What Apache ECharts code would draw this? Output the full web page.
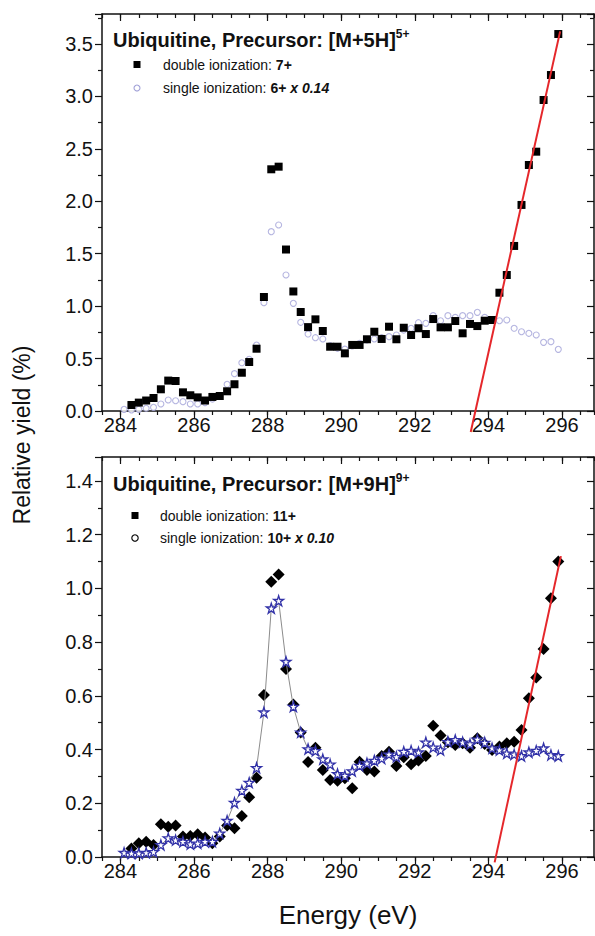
<!DOCTYPE html>
<html>
<head>
<meta charset="utf-8">
<script src="https://cdn.jsdelivr.net/npm/echarts@6/dist/echarts.min.js"></script>
<style>
   html, body { margin: 0; padding: 0; background: #fff; }
   #chart { width: 595px; height: 936px; }
</style>
</head>
<body>
<div id="chart"></div>
<script>
// energies (eV) of the measured points
const ENERGY_SINGLE = [284.1, 284.3, 284.5, 284.7, 284.9, 285.1, 285.3, 285.5, 285.7, 285.9,
   286.1, 286.3, 286.5, 286.7, 286.9, 287.1, 287.3, 287.5, 287.7, 287.9,
   288.1, 288.3, 288.5, 288.7, 288.9, 289.1, 289.3, 289.5, 289.7, 289.9,
   290.1, 290.3, 290.5, 290.7, 290.9, 291.1, 291.3, 291.5, 291.7, 291.9,
   292.1, 292.3, 292.5, 292.7, 292.9, 293.1, 293.3, 293.5, 293.7, 293.9,
   294.1, 294.3, 294.5, 294.7, 294.9, 295.1, 295.3, 295.5, 295.7, 295.9];
const ENERGY_DOUBLE = [284.3, 284.5, 284.7, 284.9, 285.1, 285.3, 285.5, 285.7, 285.9,
   286.1, 286.3, 286.5, 286.7, 286.9, 287.1, 287.3, 287.5, 287.7, 287.9,
   288.1, 288.3, 288.5, 288.7, 288.9, 289.1, 289.3, 289.5, 289.7, 289.9,
   290.1, 290.3, 290.5, 290.7, 290.9, 291.1, 291.3, 291.5, 291.7, 291.9,
   292.1, 292.3, 292.5, 292.7, 292.9, 293.1, 293.3, 293.5, 293.7, 293.9,
   294.1, 294.3, 294.5, 294.7, 294.9, 295.1, 295.3, 295.5, 295.7, 295.9];

// [M+5H]5+ : double ionization 7+, single ionization 6+ x 0.14
const TOP_DOUBLE = [0.057, 0.08, 0.10, 0.124, 0.207, 0.29, 0.286, 0.178, 0.15,
   0.13, 0.10, 0.134, 0.143, 0.188, 0.255, 0.365, 0.467, 0.594, 1.087,
   2.305, 2.33, 1.54, 1.14, 0.944, 0.80, 0.874, 0.763, 0.613, 0.613,
   0.55, 0.63, 0.63, 0.684, 0.756, 0.687, 0.804, 0.684, 0.794, 0.725,
   0.789, 0.734, 0.877, 0.798, 0.798, 0.858, 0.741, 0.83, 0.81, 0.861,
   0.868, 1.128, 1.297, 1.574, 1.965, 2.346, 2.473, 2.966, 3.204, 3.595];
const TOP_SINGLE = [0.016, 0.01, 0.016, 0.026, 0.035, 0.067, 0.105, 0.098, 0.089, 0.067,
   0.067, 0.08, 0.114, 0.143, 0.255, 0.356, 0.46, 0.493, 0.629, 1.033,
   1.71, 1.774, 1.297, 1.027, 0.846, 0.734, 0.699, 0.687, 0.623, 0.598,
   0.59, 0.62, 0.645, 0.677, 0.687, 0.699, 0.709, 0.725, 0.772, 0.789,
   0.842, 0.836, 0.909, 0.861, 0.909, 0.893, 0.909, 0.909, 0.941, 0.893,
   0.868, 0.861, 0.868, 0.789, 0.756, 0.741, 0.725, 0.655, 0.661, 0.588];
const TOP_FIT = [[293.52, -0.2], [295.95, 3.62]];

// [M+9H]9+ : double ionization 11+, single ionization 10+ x 0.10
const BOTTOM_DOUBLE = [0.032, 0.051, 0.057, 0.045, 0.122, 0.113, 0.117, 0.076, 0.078,
   0.085, 0.073, 0.051, 0.076, 0.117, 0.107, 0.153, 0.222, 0.295, 0.603,
   1.025, 1.052, 0.70, 0.568, 0.463, 0.354, 0.407, 0.324, 0.287, 0.284,
   0.293, 0.256, 0.355, 0.324, 0.318, 0.376, 0.392, 0.339, 0.371, 0.345,
   0.359, 0.376, 0.489, 0.452, 0.427, 0.417, 0.423, 0.407, 0.442, 0.421,
   0.398, 0.411, 0.423, 0.429, 0.473, 0.591, 0.668, 0.774, 0.963, 1.10];
const BOTTOM_SINGLE = [0.016, 0.014, 0.014, 0.016, 0.019, 0.045, 0.07, 0.063, 0.057, 0.048,
   0.051, 0.057, 0.057, 0.088, 0.135, 0.202, 0.247, 0.277, 0.332, 0.539,
   0.926, 0.954, 0.727, 0.56, 0.464, 0.402, 0.395, 0.364, 0.345, 0.309,
   0.303, 0.32, 0.34, 0.349, 0.359, 0.367, 0.382, 0.373, 0.392, 0.396,
   0.39, 0.427, 0.408, 0.398, 0.429, 0.436, 0.427, 0.42, 0.438, 0.426,
   0.405, 0.398, 0.386, 0.382, 0.376, 0.39, 0.396, 0.405, 0.38, 0.376];
const BOTTOM_FIT = [[294.17, -0.02], [295.97, 1.12]];

// axis ticks
const X_TICKS = [284, 286, 288, 290, 292, 294, 296];
const X_MIN = 283.5, X_MAX = 296.87;

const FONT = "'Liberation Sans', Arial, sans-serif";
const INK = '#111';
const STAR = 'path://M50,2 L61,36 L97,36 L68,57 L79,92 L50,71 L21,92 L32,57 L3,36 L39,36 Z';

function pair(xs, ys) {
   return ys.map((y, i) => [xs[i], y]);
}

function xAxesFor(g) {
   const line = { color: INK, width: 1.5 };
   const tick = { color: INK, width: 1.2 };
   const base = { gridIndex: g, type: 'value', min: X_MIN, max: X_MAX, splitLine: { show: false } };
   return [
      Object.assign({}, base, {
         position: 'bottom', interval: 0.5,
         axisLine: { show: true, lineStyle: line },
         axisTick: { show: true, length: 4, lineStyle: tick },
         axisLabel: { customValues: X_TICKS, fontSize: 20, color: INK, fontFamily: FONT, margin: 4 }
      }),
      Object.assign({}, base, {
         position: 'bottom',
         axisLine: { show: false },
         axisTick: { show: true, customValues: X_TICKS, length: 7, lineStyle: tick },
         axisLabel: { show: false }
      }),
      Object.assign({}, base, {
         position: 'top', interval: 0.5,
         axisLine: { show: true, lineStyle: line },
         axisTick: { show: true, inside: true, length: 4, lineStyle: tick },
         axisLabel: { show: false }
      }),
      Object.assign({}, base, {
         position: 'top',
         axisLine: { show: false },
         axisTick: { show: true, inside: true, customValues: X_TICKS, length: 7, lineStyle: tick },
         axisLabel: { show: false }
      })
   ];
}

function yAxesFor(g, max, step) {
   const line = { color: INK, width: 1.5 };
   const tick = { color: INK, width: 1.2 };
   const base = {
      gridIndex: g, type: 'value', min: 0, max: max, interval: step,
      splitLine: { show: false },
      minorTick: { show: true, splitNumber: 2, length: 4, lineStyle: tick }
   };
   return [
      Object.assign({}, base, {
         position: 'left',
         axisLine: { show: true, lineStyle: line },
         axisTick: { show: true, length: 7, lineStyle: tick },
         axisLabel: {
            fontSize: 20, color: INK, fontFamily: FONT, margin: 9, showMaxLabel: false,
            formatter: v => v.toFixed(1)
         }
      }),
      Object.assign({}, base, {
         position: 'right',
         axisLine: { show: true, lineStyle: line },
         axisTick: { show: true, inside: true, length: 7, lineStyle: tick },
         axisLabel: { show: false }
      })
   ];
}

function titleText(x, y, main, sup) {
   return {
      type: 'text', x: x, y: y,
      style: {
         text: '{t|' + main + '}{s|' + sup + '}',
         verticalAlign: 'middle',
         rich: {
            t: { fontSize: 20, fontWeight: 'bold', fontFamily: FONT, fill: INK, lineHeight: 24 },
            s: { fontSize: 12, fontWeight: 'bold', fontFamily: FONT, fill: INK, lineHeight: 12, verticalAlign: 'top' }
         }
      }
   };
}

function legendText(x, y, plain, bold, italic) {
   let txt = '{n|' + plain + '}{b|' + bold + '}';
   if (italic) txt += '{i|' + italic + '}';
   return {
      type: 'text', x: x, y: y,
      style: {
         text: txt,
         verticalAlign: 'middle',
         rich: {
            n: { fontSize: 14, fontFamily: FONT, fill: INK },
            b: { fontSize: 14, fontWeight: 'bold', fontFamily: FONT, fill: INK },
            i: { fontSize: 14, fontWeight: 'bold', fontStyle: 'italic', fontFamily: FONT, fill: INK }
         }
      }
   };
}

const chart = echarts.init(document.getElementById('chart'), null, { renderer: 'svg' });

chart.setOption({
   animation: false,
   backgroundColor: '#fff',
   grid: [
      { left: 102, top: 14, width: 492, height: 397 },
      { left: 102, top: 457, width: 492, height: 400 }
   ],
   xAxis: xAxesFor(0).concat(xAxesFor(1)),
   yAxis: yAxesFor(0, 3.786, 0.5).concat(yAxesFor(1, 1.489, 0.2)),
   series: [
      {
         name: 'single ionization: 6+ x 0.14', type: 'scatter', xAxisIndex: 0, yAxisIndex: 0,
         data: pair(ENERGY_SINGLE, TOP_SINGLE),
         symbol: 'circle', symbolSize: 6,
         itemStyle: { color: '#fff', borderColor: '#a2a2d8', borderWidth: 1.1 },
         z: 2
      },
      {
         name: 'double ionization: 7+', type: 'scatter', xAxisIndex: 0, yAxisIndex: 0,
         data: pair(ENERGY_DOUBLE, TOP_DOUBLE),
         symbol: 'rect', symbolSize: 8,
         itemStyle: { color: '#000', opacity: 1 },
         z: 3
      },
      {
         type: 'line', xAxisIndex: 0, yAxisIndex: 0, data: TOP_FIT,
         symbol: 'none', clip: false,
         lineStyle: { color: '#e5272b', width: 2 },
         z: 5
      },
      {
         name: 'double ionization: 11+', type: 'scatter', xAxisIndex: 4, yAxisIndex: 2,
         data: pair(ENERGY_DOUBLE, BOTTOM_DOUBLE),
         symbol: 'diamond', symbolSize: 12,
         itemStyle: { color: '#000', opacity: 1 },
         z: 2
      },
      {
         name: 'single ionization: 10+ x 0.10', type: 'line', xAxisIndex: 4, yAxisIndex: 2,
         data: pair(ENERGY_SINGLE, BOTTOM_SINGLE),
         symbol: STAR, symbolSize: 10, showSymbol: true, showAllSymbol: true,
         lineStyle: { color: '#8c8c8c', width: 1 },
         itemStyle: { color: '#fff', borderColor: '#3232a8', borderWidth: 1.3 },
         z: 3
      },
      {
         type: 'line', xAxisIndex: 4, yAxisIndex: 2, data: BOTTOM_FIT,
         symbol: 'none', clip: false,
         lineStyle: { color: '#e5272b', width: 2 },
         z: 5
      }
   ],
   graphic: [
      titleText(113, 40, 'Ubiquitine, Precursor: [M+5H]', '5+'),
      { type: 'rect', shape: { x: 133.5, y: 61, width: 7, height: 7 }, style: { fill: '#000' } },
      legendText(163, 65, 'double ionization: ', '7+'),
      { type: 'circle', shape: { cx: 137, cy: 88, r: 3 }, style: { fill: '#fff', stroke: '#a2a2d8', lineWidth: 1.1 } },
      legendText(163, 88, 'single ionization: ', '6+ ', 'x 0.14'),

      titleText(113, 484, 'Ubiquitine, Precursor: [M+9H]', '9+'),
      { type: 'rect', shape: { x: 131.5, y: 512, width: 7, height: 7 }, style: { fill: '#000' } },
      legendText(160, 516, 'double ionization: ', '11+'),
      { type: 'circle', shape: { cx: 135, cy: 538, r: 3.2 }, style: { fill: '#fff', stroke: '#000', lineWidth: 1.1 } },
      legendText(160, 538, 'single ionization: ', '10+ ', 'x 0.10'),

      {
         type: 'text', x: 22, y: 435, rotation: Math.PI / 2,
         style: { text: 'Relative yield (%)', fontSize: 23, fontFamily: FONT, fill: INK, align: 'center', verticalAlign: 'middle' }
      },
      {
         type: 'text', x: 348, y: 915,
         style: { text: 'Energy (eV)', fontSize: 26, fontFamily: FONT, fill: INK, align: 'center', verticalAlign: 'middle' }
      }
   ]
});
</script>
</body>
</html>
